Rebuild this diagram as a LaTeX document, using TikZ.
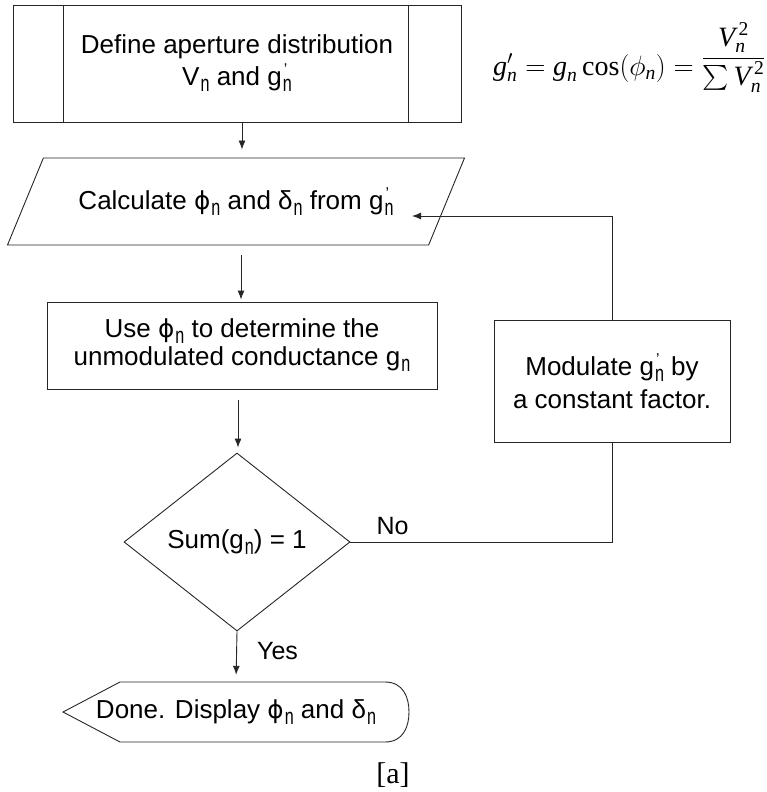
\documentclass[tikz,border=0pt]{standalone}
\usepackage{fix-cm}
\usepackage{amsmath}
\usepackage{graphicx}
\usepackage[no-math]{fontspec}
\setmainfont{Liberation Sans}
\newfontfamily\seriffont{Liberation Serif}
\newfontfamily\dvs{DejaVu Sans}
\usetikzlibrary{shapes.geometric,arrows.meta}
\newcommand{\mysub}[1]{\kern1pt\raisebox{-6pt}{\scalebox{0.62}[0.88]{#1}}}
\newcommand{\gpn}{g\rlap{\kern2pt\raisebox{11pt}{\scalebox{0.6}{'}}}\mysub{n}}
\newcommand{\myphi}{{\dvs\scalebox{0.95}{ϕ}}}
\newcommand{\ti}[1]{\text{\seriffont\itshape #1}}
\begin{document}
\begin{tikzpicture}[x=1pt,y=-1pt,
  every node/.style={font=\fontsize{26}{32}\selectfont},
  line/.style={draw=black!85, line width=0.9pt},
  arr/.style={line, -{Latex[length=9pt,width=7pt]}},
  box/.style={line, align=center, inner sep=0pt},
  para/.style={line, trapezium, trapezium left angle=43.4, trapezium right angle=136.6,
    trapezium stretches=true, inner sep=0pt, align=center},
  decision/.style={line, diamond, inner sep=0pt, align=center},
  lbl/.style={inner sep=0pt}]
\useasboundingbox (0,0) rectangle (766,792);

% predefined process
\node[box, minimum width=448pt, minimum height=117pt] (def) at (237,63.5)
  {Define aperture distribution\\[0pt]V\mysub{n} and \gpn};
\draw[line] ([xshift=51pt]def.north west) -- ([xshift=51pt]def.south west);
\draw[line] ([xshift=-53pt]def.north east) -- ([xshift=-53pt]def.south east);

% formula
\node[lbl, anchor=base west, font=\fontsize{28}{32}\selectfont] (eq) at (493,75)
  {$\ti{g}'_{\ti{n}} = \ti{g}_{\ti{n}}\,\text{\seriffont cos}(\phi_{\ti{n}})
   = \raisebox{10pt}{$\dfrac{\ti{V}_{\ti{n}}^{\,\text{\seriffont 2}}}{\sum \ti{V}_{\ti{n}}^{\,\text{\seriffont 2}}}$}$};

% calculate
\node[para, minimum width=458pt, minimum height=87pt] (calc) at (236,201.5)
  {Calculate \myphi\mysub{n} and δ\mysub{n} from \gpn};

% use
\node[box, minimum width=390pt, minimum height=87pt] (use) at (242,345.5)
  {Use \myphi\mysub{n} to determine the\\[-4pt]unmodulated conductance g\mysub{n}};

% modulate
\node[box, minimum width=236pt, minimum height=122pt] (mod) at (612,381)
  {Modulate \gpn{} by\\[1pt]a constant factor.};

% decision
\node[decision, minimum width=226pt, minimum height=178pt] (dec) at (237,542)
  {Sum(g\mysub{n}) = 1};

% display
\node[lbl, minimum width=346pt, minimum height=60pt] (disp) at (236,712)
  {Done. Display \myphi\mysub{n} and δ\mysub{n}};
\draw[line] (63,712) -- (120,682) -- (385,682)
  .. controls (403,682) and (409,697) .. (409,712)
  .. controls (409,727) and (403,742) .. (385,742) -- (120,742) -- cycle;

% connectors
\draw[arr, shorten >=8pt] (242,0 |- def.south) -- (242,0 |- calc.north);
\draw[arr, shorten <=10pt, shorten >=2pt] (241,0 |- calc.south) -- (241,0 |- use.north);
\draw[arr, shorten <=11pt, shorten >=5pt] (238,0 |- use.south) -- (238,0 |- dec.north);
\draw[arr, shorten >=7pt] (dec.south) -- (disp.north);
\draw[line] (dec.east) -| (mod.south);
\coordinate (fbtip) at (412,216);
\draw[arr] (mod.north) |- (fbtip);

% labels
\node[lbl, font=\fontsize{25}{30}\selectfont] (no) at (392.5,526) {No};
\node[lbl, font=\fontsize{25}{30}\selectfont] (yes) at (277.5,651) {Yes};
\node[lbl, font=\seriffont\fontsize{30}{32}\selectfont] (cap) at (393,775) {[a]};
\end{tikzpicture}
\end{document}
